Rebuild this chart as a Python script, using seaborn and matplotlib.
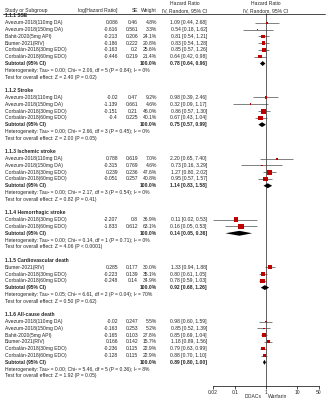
import numpy as np
import pandas as pd
import matplotlib.pyplot as plt
import matplotlib.transforms as mtransforms
from matplotlib.lines import Line2D
import seaborn as sns

# ---- data ----
group_titles = ["1.1.1 SSE", "1.1.2 Stroke", "1.1.3 Ischemic stroke",
                "1.1.4 Hemorrhagic stroke", "1.1.5 Cardiovascular death",
                "1.1.6 All-cause death"]

studies = [
    ["Avezum-2018(110mg DA)", "Avezum-2018(150mg DA)", "Bahit-2020(5mg API)",
     "Blumer-2021(RIV)", "Corbalán-2018(30mg EDO)", "Corbalán-2018(60mg EDO)"],
    ["Avezum-2018(110mg DA)", "Avezum-2018(150mg DA)",
     "Corbalán-2018(30mg EDO)", "Corbalán-2018(60mg EDO)"],
    ["Avezum-2018(110mg DA)", "Avezum-2018(150mg DA)",
     "Corbalán-2018(30mg EDO)", "Corbalán-2018(60mg EDO)"],
    ["Corbalán-2018(30mg EDO)", "Corbalán-2018(60mg EDO)"],
    ["Blumer-2021(RIV)", "Corbalán-2018(30mg EDO)", "Corbalán-2018(60mg EDO)"],
    ["Avezum-2018(110mg DA)", "Avezum-2018(150mg DA)", "Bahit-2020(5mg API)",
     "Blumer-2021(RIV)", "Corbalán-2018(30mg EDO)", "Corbalán-2018(60mg EDO)"],
]
log_hr = [
    [0.086, -0.616, -0.213, -0.186, -0.163, -0.446],
    [-0.02, -1.139, -0.151, -0.4],
    [0.788, -0.315, 0.239, -0.051],
    [-2.207, -1.833],
    [0.285, -0.223, -0.248],
    [-0.02, -0.163, -0.165, 0.166, -0.236, -0.128],
]
se = [
    [0.46, 0.561, 0.206, 0.222, 0.2, 0.219],
    [0.47, 0.661, 0.21, 0.225],
    [0.619, 0.769, 0.236, 0.257],
    [0.8, 0.612],
    [0.177, 0.139, 0.14],
    [0.247, 0.253, 0.103, 0.142, 0.115, 0.115],
]
weight = [
    [4.8, 3.3, 24.1, 20.8, 25.6, 21.4],
    [9.2, 4.6, 46.0, 40.1],
    [7.0, 4.6, 47.6, 40.8],
    [36.9, 63.1],
    [30.0, 35.1, 34.9],
    [5.5, 5.2, 27.8, 15.7, 22.9, 22.9],
]
hr = [
    [1.09, 0.54, 0.81, 0.83, 0.85, 0.64],
    [0.98, 0.32, 0.86, 0.67],
    [2.20, 0.73, 1.27, 0.95],
    [0.11, 0.16],
    [1.33, 0.80, 0.78],
    [0.98, 0.85, 0.85, 1.18, 0.79, 0.88],
]
ci_low = [
    [0.44, 0.18, 0.54, 0.54, 0.57, 0.42],
    [0.39, 0.09, 0.57, 0.43],
    [0.65, 0.16, 0.80, 0.57],
    [0.02, 0.05],
    [0.94, 0.61, 0.59],
    [0.60, 0.52, 0.69, 0.89, 0.63, 0.70],
]
ci_high = [
    [2.68, 1.62, 1.21, 1.28, 1.26, 0.98],
    [2.46, 1.17, 1.30, 1.04],
    [7.40, 3.29, 2.02, 1.57],
    [0.53, 0.53],
    [1.88, 1.05, 1.03],
    [1.59, 1.39, 1.04, 1.56, 0.99, 1.10],
]
sub_hr = [0.78, 0.75, 1.14, 0.14, 0.92, 0.89]
sub_low = [0.64, 0.57, 0.83, 0.05, 0.68, 0.80]
sub_high = [0.96, 0.99, 1.58, 0.36, 1.26, 1.00]
heterogeneity = [
    "Heterogeneity: Tau² = 0.00; Chi² = 2.06, df = 5 (P = 0.84); I² = 0%",
    "Heterogeneity: Tau² = 0.00; Chi² = 2.66, df = 3 (P = 0.45); I² = 0%",
    "Heterogeneity: Tau² = 0.00; Chi² = 2.17, df = 3 (P = 0.54); I² = 0%",
    "Heterogeneity: Tau² = 0.00; Chi² = 0.14, df = 1 (P = 0.71); I² = 0%",
    "Heterogeneity: Tau² = 0.05; Chi² = 6.61, df = 2 (P = 0.04); I² = 70%",
    "Heterogeneity: Tau² = 0.00; Chi² = 5.46, df = 5 (P = 0.36); I² = 8%",
]
overall = [
    "Test for overall effect: Z = 2.40 (P = 0.02)",
    "Test for overall effect: Z = 2.00 (P = 0.05)",
    "Test for overall effect: Z = 0.82 (P = 0.41)",
    "Test for overall effect: Z = 4.06 (P < 0.0001)",
    "Test for overall effect: Z = 0.50 (P = 0.62)",
    "Test for overall effect: Z = 1.92 (P = 0.05)",
]
x_ticks = [0.02, 0.1, 1, 10, 50]
x_ticklabels = ["0.02", "0.1", "1", "10", "50"]

# ---- build row table ----
rows = []
r = 0
for g in range(len(group_titles)):
    rows.append(dict(row=r, kind="title", text=group_titles[g]))
    r += 1
    for i in range(len(studies[g])):
        rows.append(dict(row=r, kind="study", text=studies[g][i], loghr=log_hr[g][i],
                         se=se[g][i], weight=weight[g][i], hr=hr[g][i],
                         lo=ci_low[g][i], hi=ci_high[g][i]))
        r += 1
    rows.append(dict(row=r, kind="subtotal", text="Subtotal (95% CI)", weight=100.0,
                     hr=sub_hr[g], lo=sub_low[g], hi=sub_high[g]))
    r += 1
    rows.append(dict(row=r, kind="het", text=heterogeneity[g]))
    r += 1
    rows.append(dict(row=r, kind="test", text=overall[g]))
    r += 2
df = pd.DataFrame(rows)
st = df[df.kind == "study"]
sb = df[df.kind == "subtotal"]

# ---- figure ----
sns.set_theme(style="white")
plt.rcParams['font.family'] = ['Liberation Sans', 'DejaVu Sans']
fs = 3.6
W, H = 328, 400
fig = plt.figure(figsize=(W / 100, H / 100), dpi=100)

y0, dy, ybot = 16, 6.79, 386
ax = fig.add_axes([213 / W, (H - ybot) / H, 106 / W, ybot / H])
ax.set_xscale("log")
ax.set_xlim(0.02, 50)
ax.set_ylim((ybot - y0) / dy, -y0 / dy)

# CI lines + weighted squares
ax.hlines(st["row"], st["lo"], st["hi"], color="#3a3a3a", lw=0.45, zorder=2)
sns.scatterplot(data=st, x="hr", y="row", size="weight", sizes=(0, 28),
                size_norm=(0, 100), marker="s", color="#c00000", linewidth=0,
                legend=False, ax=ax, zorder=3)

# subtotal diamonds
dh = 0.36
for _, s in sb.iterrows():
    ax.fill([s.lo, s.hr, s.hi, s.hr], [s.row, s.row - dh, s.row, s.row + dh],
            color="black", lw=0, zorder=3)

hdr_line = (13.5 - y0) / dy
ax.vlines(1, hdr_line, (ybot - y0) / dy, color="#222222", lw=0.5, zorder=1, clip_on=False)

for sp in ["left", "right", "top"]:
    ax.spines[sp].set_visible(False)
ax.spines["bottom"].set_linewidth(0.5)
ax.spines["bottom"].set_color("black")
ax.set_xticks(x_ticks)
ax.set_xticklabels(x_ticklabels)
ax.minorticks_off()
ax.set_yticks([])
ax.tick_params(axis="x", bottom=True, length=2, width=0.5, pad=0.8, labelsize=fs, color="black")
ax.set_xlabel("")
ax.set_ylabel("")

# ---- text columns ----
tr = mtransforms.blended_transform_factory(fig.transFigure, ax.transData)
xs = {"name": 5 / W, "log": 118 / W, "se": 138 / W, "w": 157 / W, "ci": 207 / W}
kw = dict(transform=tr, fontsize=fs, va="center", clip_on=False)

for _, d in df.iterrows():
    bold = "bold" if d.kind in ("title", "subtotal") else "normal"
    ax.text(xs["name"], d.row, d.text, ha="left", fontweight=bold, **kw)
    if d.kind == "study":
        ax.text(xs["log"], d.row, f"{d.loghr:g}", ha="right", **kw)
        ax.text(xs["se"], d.row, f"{d.se:g}", ha="right", **kw)
    if d.kind in ("study", "subtotal"):
        ax.text(xs["w"], d.row, f"{d.weight:.1f}%", ha="right", fontweight=bold, **kw)
        ax.text(xs["ci"], d.row, f"{d.hr:.2f} [{d.lo:.2f}, {d.hi:.2f}]", ha="right",
                fontweight=bold, **kw)

# headers
r1 = (10.5 - y0) / dy
r0 = (4 - y0) / dy
ax.text(xs["name"], r1, "Study or Subgroup", ha="left", **kw)
ax.text(xs["log"], r1, "log[Hazard Ratio]", ha="right", **kw)
ax.text(xs["se"], r1, "SE", ha="right", **kw)
ax.text(xs["w"], r1, "Weight", ha="right", **kw)
ax.text(185 / W, r0, "Hazard Ratio", ha="center", **kw)
ax.text(185 / W, r1, "IV, Random, 95% CI", ha="center", **kw)
ax.text(1, r0, "Hazard Ratio", ha="center", transform=ax.transData, fontsize=fs,
        va="center", clip_on=False)
ax.text(1, r1, "IV, Random, 95% CI", ha="center", transform=ax.transData, fontsize=fs,
        va="center", clip_on=False)
fig.add_artist(Line2D([3 / W, 325 / W], [(H - 13.5) / H] * 2, color="black", lw=0.5))

fig.text(262 / W, 3 / H, "DOACs", ha="right", va="center", fontsize=fs)
fig.text(268 / W, 3 / H, "Warfarin", ha="left", va="center", fontsize=fs)

fig.savefig("out.png", dpi=100, facecolor="white")
